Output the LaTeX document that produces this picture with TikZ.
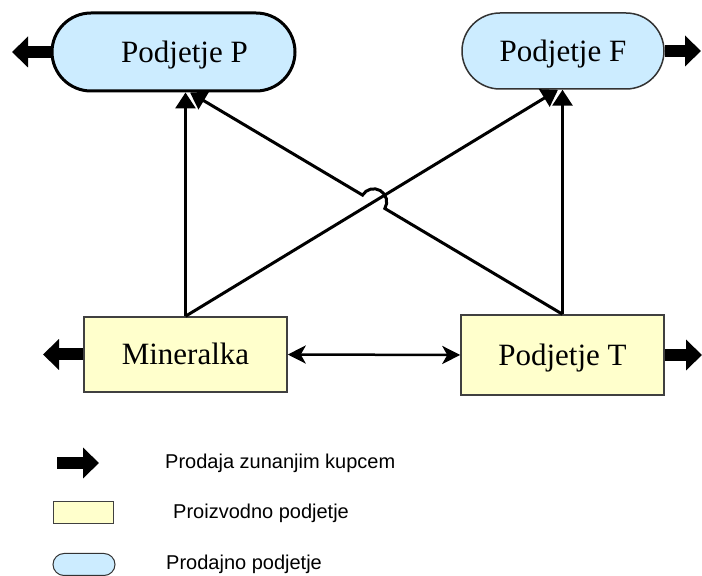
\documentclass[tikz,border=0pt]{standalone}
\usepackage{fontspec}
\setmainfont{Liberation Serif}
\newfontfamily\arialfont{Liberation Sans}
\usetikzlibrary{arrows.meta,calc,intersections}
\definecolor{salesblue}{RGB}{204,236,255}
\definecolor{prodyellow}{RGB}{255,255,204}
\begin{document}
\begin{tikzpicture}[x=1pt,y=1pt,
  mainfont/.style={font=\fontsize{31}{36}\selectfont, text height=21.7pt, text depth=1.2pt, inner sep=0pt},
  salesbox/.style={mainfont, fill=salesblue},
  prodbox/.style={mainfont, draw=black!75, line width=1.5pt, fill=prodyellow, minimum width=203pt},
  bigarrow/.style={line width=12pt, -{Triangle[length=16pt,width=30pt]}},
  flow/.style={line width=3pt, -{Triangle[length=16pt,width=20pt]}},
  both/.style={line width=2.5pt, {Stealth[length=18pt,width=18pt,inset=5pt]}-{Stealth[length=18pt,width=18pt,inset=5pt]}},
  legtext/.style={font=\arialfont\fontsize{20}{24}\selectfont, anchor=base west, inner sep=0pt}
]
\useasboundingbox (0,0) rectangle (702,576);

% main nodes
\node[salesbox, draw=black, line width=3pt, rounded corners=39pt, minimum width=243pt, minimum height=78pt] (P) at (173.5,524) {\hspace*{22pt}Podjetje P};
\node[salesbox, draw=black!80, line width=1.5pt, rounded corners=38pt, minimum width=202pt, minimum height=76pt] (F) at (563,525) {Podjetje F};
\node[prodbox, minimum height=75pt] (M) at (185.5,221.5) {Mineralka};
\node[prodbox, minimum height=80pt] (T) at (562.5,221) {Podjetje T};

% external sales arrows
\coordinate (Pout) at (12,524);
\coordinate (Fout) at (701,525);
\coordinate (Mout) at (43,221.5);
\coordinate (Tout) at (702,221);
\draw[bigarrow] (P.west) -- (Pout);
\draw[bigarrow] (F.east) -- (Fout);
\draw[bigarrow] (M.west) -- (Mout);
\draw[bigarrow] (T.east) -- (Tout);

% internal flows
\coordinate (pT) at ([xshift=16.5pt]P.south);
\coordinate (fM) at ([xshift=-5pt]F.south);
\draw[flow] (M.north) -- (M.north |- P.south);
\draw[flow] (T.north) -- (T.north |- F.south);
\draw[flow] (M.north) -- (fM);
\path[name path=lineA] (M.north) -- (fM);
\path[name path=lineB] (T.north) -- (pT);
\path[name intersections={of=lineA and lineB, by=X}];
\draw[flow] (T.north) -- ($(X)!13pt!(T.north)$) arc[start angle=-31, end angle=149, radius=13pt] -- (pT);

\draw[both] (M.east) -- (T.west);

% legend
\coordinate (La) at (57,113);
\coordinate (Lb) at (99,113);
\draw[bigarrow] (La) -- (Lb);
\node[legtext] (L1) at (165,107) {Prodaja zunanjim kupcem};
\node[draw=black!75, line width=1pt, fill=prodyellow, minimum width=60pt, minimum height=22pt, inner sep=0pt] (LR) at (83,63) {};
\node[legtext] (L2) at (173,57) {Proizvodno podjetje};
\node[draw=black!80, line width=1pt, fill=salesblue, rounded corners=11pt, minimum width=62pt, minimum height=22pt, inner sep=0pt] (LS) at (84,11.5) {};
\node[legtext] (L3) at (166,6) {Prodajno podjetje};
\end{tikzpicture}
\end{document}
